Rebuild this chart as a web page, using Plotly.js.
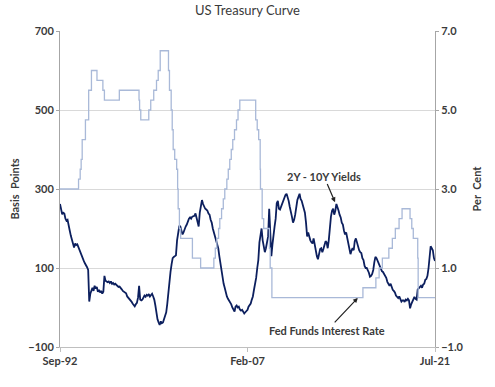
<!DOCTYPE html>
<html>
<head>
<meta charset="utf-8">
<script src="https://cdn.plot.ly/plotly-3.0.1.min.js"></script>
<style>html,body{margin:0;padding:0;background:#fff;}#chart{width:495px;height:387px;}</style>
</head>
<body>
<div id="chart"></div>
<script>
// 2Y - 10Y Treasury yield spread (basis points), monthly from Sep-1992
var spreadStartYear = 1992;
var spreadStartMonth = 9;
var spreadBp = [
  262, 252, 236, 240,                                        // 1992 Sep-Dec
  238, 225, 220, 222, 212, 195, 182, 170, 160, 152, 162, 158, // 1993
  160, 152, 145, 140, 132, 125, 118, 112, 108, 102, 95, 15,   // 1994
  35, 45, 50, 42, 55, 48, 52, 40, 45, 38, 42, 35,             // 1995
  40, 80, 68, 66, 64, 66, 62, 66, 60, 62, 58, 60,             // 1996
  57, 55, 52, 53, 48, 46, 42, 40, 38, 36, 28, 25,             // 1997
  22, 18, 15, 10, 5, 3, 8, 12, 25, 55, 20, 18,                // 1998
  20, 28, 30, 27, 32, 30, 34, 28, 32, 35, 28, 20,             // 1999
  5, -20, -30, -38, -44, -35, -40, -38, -30, -20, -12, 10,    // 2000
  45, 60, 90, 110, 125, 128, 130, 132, 170, 195, 205, 205,    // 2001
  195, 185, 190, 200, 205, 210, 218, 225, 228, 225, 230, 232, // 2002
  232, 238, 228, 210, 205, 240, 262, 272, 262, 255, 250, 248, // 2003
  245, 238, 235, 222, 215, 200, 190, 185, 170, 160, 150, 130, // 2004
  110, 95, 75, 60, 50, 35, 28, 22, 18, 12, 8, 0,              // 2005
  -5, -10, 2, 5, 0, 2, -5, -8, -6, -10, -15, -12,             // 2006
  -10, -6, 2, 5, 10, 20, 28, 45, 60, 75, 100, 120,            // 2007
  165, 190, 200, 170, 150, 140, 150, 165, 180, 250, 190, 130, // 2008
  160, 190, 205, 225, 264, 270, 250, 248, 255, 265, 272, 280, // 2009
  285, 288, 280, 270, 255, 245, 230, 215, 222, 235, 258, 272, // 2010
  280, 288, 275, 270, 260, 250, 240, 215, 180, 190, 175, 170, // 2011
  165, 162, 175, 160, 140, 130, 122, 140, 148, 150, 140, 148, // 2012
  160, 168, 165, 150, 170, 210, 230, 245, 250, 235, 245, 262, // 2013
  255, 245, 235, 228, 215, 210, 195, 185, 190, 175, 165, 150, // 2014
  135, 145, 150, 145, 168, 175, 165, 152, 145, 140, 138, 125, // 2015
  120, 105, 100, 100, 95, 88, 78, 80, 85, 95, 115, 128,       // 2016
  125, 118, 115, 105, 100, 92, 90, 85, 80, 75, 65, 58,        // 2017
  55, 60, 52, 45, 42, 38, 30, 26, 24, 28, 22, 15,             // 2018
  18, 18, 14, 20, 18, 22, 18, -2, 8, 15, 20, 27,              // 2019
  22, 20, 45, 48, 52, 55, 50, 58, 60, 70, 72, 80,             // 2020
  100, 130, 155, 150, 145, 125, 118                           // 2021 Jan-Jul
];

// Fed Funds target rate (per cent), change dates
var ffDates = [
  '1992-09-01','1994-02-04','1994-03-22','1994-04-18','1994-05-17','1994-08-16','1994-11-15',
  '1995-02-01','1995-07-06','1995-12-19','1996-01-31','1997-03-25','1998-09-29','1998-10-15',
  '1998-11-17','1999-06-30','1999-08-24','1999-11-16','2000-02-02','2000-03-21','2000-05-16',
  '2001-01-03','2001-01-31','2001-03-20','2001-04-18','2001-05-15','2001-06-27','2001-08-21',
  '2001-09-17','2001-10-02','2001-11-06','2001-12-11','2002-11-06','2003-06-25','2004-06-30',
  '2004-08-10','2004-09-21','2004-11-10','2004-12-14','2005-02-02','2005-03-22','2005-05-03',
  '2005-06-30','2005-08-09','2005-09-20','2005-11-01','2005-12-13','2006-01-31','2006-03-28',
  '2006-05-10','2006-06-29','2007-09-18','2007-10-31','2007-12-11','2008-01-22','2008-01-30',
  '2008-03-18','2008-04-30','2008-10-08','2008-10-29','2008-12-16','2015-12-16','2016-12-14',
  '2017-03-15','2017-06-14','2017-12-13','2018-03-21','2018-06-13','2018-09-26','2018-12-19',
  '2019-07-31','2019-09-18','2019-10-30','2020-03-03','2020-03-15','2021-07-01'
];
var ffRates = [
  3.00, 3.25, 3.50, 3.75, 4.25, 4.75, 5.50,
  6.00, 5.75, 5.50, 5.25, 5.50, 5.25, 5.00,
  4.75, 5.00, 5.25, 5.50, 5.75, 6.00, 6.50,
  6.00, 5.50, 5.00, 4.50, 4.00, 3.75, 3.50,
  3.00, 2.50, 2.00, 1.75, 1.25, 1.00, 1.25,
  1.50, 1.75, 2.00, 2.25, 2.50, 2.75, 3.00,
  3.25, 3.50, 3.75, 4.00, 4.25, 4.50, 4.75,
  5.00, 5.25, 4.75, 4.50, 4.25, 3.50, 3.00,
  2.25, 2.00, 1.50, 1.00, 0.25, 0.50, 0.75,
  1.00, 1.25, 1.50, 1.75, 2.00, 2.25, 2.50,
  2.25, 2.00, 1.75, 1.25, 0.25, 0.25
];

var xTickVals = ['1992-09-01', '2007-02-01', '2021-07-01'];
var xTickText = ['Sep-92', 'Feb-07', 'Jul-21'];

var spreadDates = [];
for (var i = 0; i < spreadBp.length; i++) {
  var m = spreadStartMonth - 1 + i;
  var yy = spreadStartYear + Math.floor(m / 12);
  var mm = (m % 12) + 1;
  spreadDates.push(yy + '-' + (mm < 10 ? '0' + mm : mm) + '-01');
}

var FONT = 'Lato, "Open Sans", sans-serif';
var TXT = '#3a3a3a';

var traces = [
  {
    x: ffDates, y: ffRates, yaxis: 'y2', type: 'scatter', mode: 'lines',
    line: {shape: 'hv', color: '#a9b9d8', width: 1.3},
    hoverinfo: 'skip'
  },
  {
    x: spreadDates, y: spreadBp, type: 'scatter', mode: 'lines',
    line: {color: '#0c1f5e', width: 1.8},
    hoverinfo: 'skip'
  }
];

var layout = {
  width: 495, height: 387,
  margin: {l: 60, r: 60, t: 31, b: 40},
  paper_bgcolor: '#ffffff', plot_bgcolor: '#ffffff',
  showlegend: false,
  title: {text: 'US Treasury Curve', x: 0.5, xanchor: 'center', y: 0.985, yanchor: 'top',
          font: {family: FONT, size: 13, color: TXT}},
  font: {family: FONT, color: TXT},
  xaxis: {
    type: 'date', range: ['1992-09-01', '2021-07-01'],
    tickmode: 'array', tickvals: xTickVals, ticktext: xTickText,
    showgrid: false, zeroline: false,
    showline: true, linecolor: '#bfbfbf', linewidth: 1,
    ticks: 'outside', ticklen: 4, tickcolor: '#bfbfbf',
    tickfont: {family: FONT, size: 11, color: TXT, weight: 'bold'}
  },
  yaxis: {
    range: [-100, 700], tickmode: 'array', tickvals: [-100, 100, 300, 500, 700],
    showgrid: true, gridcolor: '#d9d9d9', gridwidth: 1, zeroline: false,
    showline: true, linecolor: '#a6a6a6', linewidth: 1,
    ticks: 'outside', ticklen: 3, tickcolor: '#a6a6a6',
    tickfont: {family: FONT, size: 11, color: TXT, weight: 'bold'},
    title: {text: 'Basis  Points', standoff: 6, font: {family: FONT, size: 11, color: TXT, weight: 'bold'}}
  },
  yaxis2: {
    overlaying: 'y', side: 'right',
    range: [-1, 7], tickmode: 'array', tickvals: [-1, 1, 3, 5, 7], tickformat: '.1f',
    showgrid: false, zeroline: false,
    showline: true, linecolor: '#a6a6a6', linewidth: 1,
    ticks: 'outside', ticklen: 3, tickcolor: '#a6a6a6',
    tickfont: {family: FONT, size: 11, color: TXT, weight: 'bold'},
    title: {text: 'Per  Cent', standoff: 10, font: {family: FONT, size: 11, color: TXT, weight: 'bold'}}
  },
  annotations: [
    {
      x: '2013-11-15', y: 262, xref: 'x', yref: 'y',
      text: '2Y - 10Y Yields', showarrow: true,
      ax: -12, ay: -28, arrowhead: 2, arrowsize: 0.8, arrowwidth: 1.2, arrowcolor: '#222222',
      standoff: 2,
      font: {family: FONT, size: 11, color: TXT, weight: 'bold'}
    },
    {
      x: '2015-09-01', y: 0.28, xref: 'x', yref: 'y2',
      text: 'Fed Funds Interest Rate', showarrow: true,
      ax: -32, ay: 34, arrowhead: 2, arrowsize: 0.8, arrowwidth: 1.2, arrowcolor: '#222222',
      standoff: 2,
      font: {family: FONT, size: 11, color: TXT, weight: 'bold'}
    }
  ]
};

Plotly.newPlot('chart', traces, layout, {displayModeBar: false, staticPlot: true});
</script>
</body>
</html>
